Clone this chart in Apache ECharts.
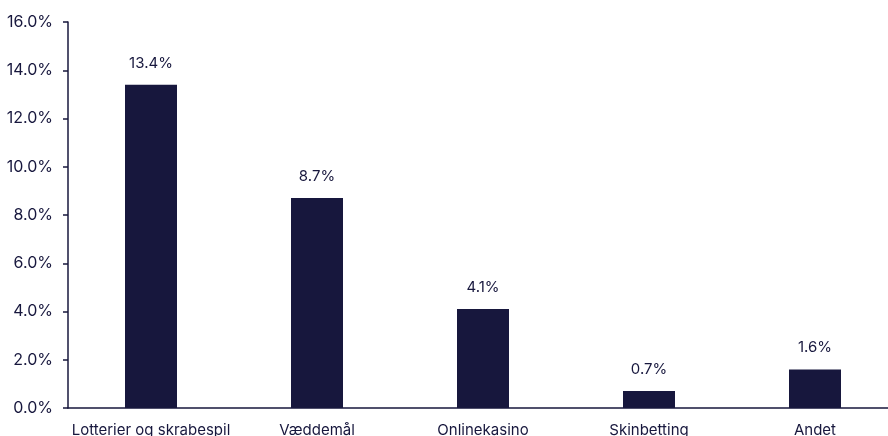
<!DOCTYPE html>
<html>
<head>
<meta charset="utf-8">
<script src="https://cdn.jsdelivr.net/npm/echarts@6/dist/echarts.min.js"></script>
<style>
  html, body { margin: 0; padding: 0; background: #fff; }
  #chart { width: 888px; height: 436px; }
</style>
</head>
<body>
<div id="chart"></div>
<script>
var categories = ["Lotterier og skrabespil", "Væddemål", "Onlinekasino", "Skinbetting", "Andet"];
var shares = [13.4, 8.7, 4.1, 0.7, 1.6];

var navy = "#17173d";
var myChart = echarts.init(document.getElementById("chart"));
myChart.setOption({
  animation: false,
  textStyle: { fontFamily: "Inter", color: navy },
  grid: { left: 68, right: -10, top: 22, bottom: 28, outerBoundsMode: "none", containLabel: false },
  xAxis: {
    type: "category",
    data: categories,
    axisLine: { lineStyle: { color: navy, width: 1.5 } },
    axisTick: { show: false },
    axisLabel: { color: navy, fontSize: 15, margin: 15, interval: 0 }
  },
  yAxis: {
    type: "value",
    min: 0,
    max: 16,
    interval: 2,
    splitLine: { show: false },
    axisLine: { show: true, lineStyle: { color: navy, width: 1.5 } },
    axisTick: { show: true, length: 5, lineStyle: { color: navy, width: 1.5 } },
    axisLabel: {
      color: navy,
      fontSize: 16,
      margin: 15,
      formatter: function (v) { return v.toFixed(1) + "%"; }
    }
  },
  series: [
    {
      type: "bar",
      data: shares,
      barWidth: 52,
      itemStyle: { color: navy },
      label: {
        show: true,
        position: "top",
        distance: 14,
        color: navy,
        fontSize: 15,
        formatter: function (p) { return p.value.toFixed(1) + "%"; }
      }
    }
  ]
});
</script>
</body>
</html>
